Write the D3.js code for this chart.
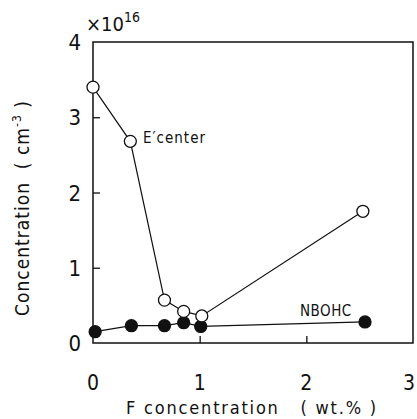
<!DOCTYPE html>
<html>
<head>
<meta charset="utf-8">
<script src="https://cdn.jsdelivr.net/npm/d3@7"></script>
<style>
  body { margin: 0; background: #fff; }
  svg text { font-family: "DejaVu Sans Condensed", "DejaVu Sans", sans-serif; fill: #111; white-space: pre; }
</style>
</head>
<body>
<svg width="417" height="419"></svg>
<script>
// E' center (open circles)
const eX = [0, 0.35, 0.67, 0.85, 1.02, 2.53]
const eY = [3.40, 2.68, 0.57, 0.42, 0.36, 1.75]
// NBOHC (filled circles)
const nX = [0.02, 0.36, 0.67, 0.85, 1.01, 2.55]
const nY = [0.15, 0.23, 0.23, 0.27, 0.22, 0.28]

const xTicks = [0, 1, 2, 3]
const yTicks = [0, 1, 2, 3, 4]

const svg = d3.select("svg")

const x = d3.scaleLinear().domain([0, 3]).range([93, 413])
const y = d3.scaleLinear().domain([0, 4]).range([343, 42])

// frame
svg.append("rect")
    .attr("x", x(0)).attr("y", y(4))
    .attr("width", x(3) - x(0)).attr("height", y(0) - y(4))
    .attr("fill", "none").attr("stroke", "#111").attr("stroke-width", 1.5)

// inward ticks
svg.append("g")
    .attr("transform", `translate(${x(0)},0)`)
    .call(d3.axisRight(y).tickValues([1, 2, 3]).tickSize(7).tickFormat(""))
    .call(g => g.select(".domain").remove())
    .selectAll("line").attr("stroke", "#111").attr("stroke-width", 1.3)

svg.append("g")
    .attr("transform", `translate(0,${y(0)})`)
    .call(d3.axisTop(x).tickValues([1, 2]).tickSize(7).tickFormat(""))
    .call(g => g.select(".domain").remove())
    .selectAll("line").attr("stroke", "#111").attr("stroke-width", 1.3)

// tick labels
svg.append("g").selectAll("text")
    .data(yTicks)
    .enter()
    .append("text")
    .attr("x", x(0) - 12)
    .attr("y", d => y(d) + 8)
    .attr("text-anchor", "end")
    .style("font-size", "22px")
    .text(d => d)

svg.append("g").selectAll("text")
    .data(xTicks)
    .enter()
    .append("text")
    .attr("x", d => Math.min(x(d), 409))
    .attr("y", 390)
    .attr("text-anchor", "middle")
    .style("font-size", "21px")
    .text(d => d)

// exponent label
const expo = svg.append("text")
    .attr("x", 86).attr("y", 31)
    .style("font-size", "20px")
expo.append("tspan").text("×10")
expo.append("tspan").attr("dy", -9).style("font-size", "14px").text("16")

// axis titles
const yt = svg.append("text")
    .attr("transform", "translate(29,208) rotate(-90)")
    .attr("text-anchor", "middle")
    .style("font-size", "19px")
    .style("letter-spacing", "1px")
yt.append("tspan").text("Concentration  ( cm")
yt.append("tspan").attr("dy", -8).style("font-size", "12px").text("-3")
yt.append("tspan").attr("dy", 8).text(" )")

svg.append("text")
    .attr("x", 252).attr("y", 414)
    .attr("text-anchor", "middle")
    .style("font-size", "18px")
    .style("letter-spacing", "1.8px")
    .text("F concentration   ( wt.% )")

// series
const line = d3.line().x(d => x(d[0])).y(d => y(d[1]))

const drawSeries = function (xs, ys, filled) {
    const pts = xs.map((v, i) => [v, ys[i]])
    svg.append("path")
        .attr("d", line(pts))
        .attr("fill", "none")
        .attr("stroke", "#111")
        .attr("stroke-width", 1.2)
    svg.append("g").selectAll("circle")
        .data(pts)
        .enter()
        .append("circle")
        .attr("cx", d => x(d[0]))
        .attr("cy", d => y(d[1]))
        .attr("r", 6)
        .attr("fill", filled ? "#111" : "#fff")
        .attr("stroke", "#111")
        .attr("stroke-width", 1.3)
}

drawSeries(nX, nY, true)
drawSeries(eX, eY, false)

// series labels
svg.append("text")
    .attr("x", 143).attr("y", 143)
    .style("font-size", "15px")
    .style("letter-spacing", "1px")
    .text("E\u2032center")

svg.append("text")
    .attr("x", 300).attr("y", 316)
    .style("font-size", "15px")
    .style("letter-spacing", "0.5px")
    .text("NBOHC")
</script>
</body>
</html>
